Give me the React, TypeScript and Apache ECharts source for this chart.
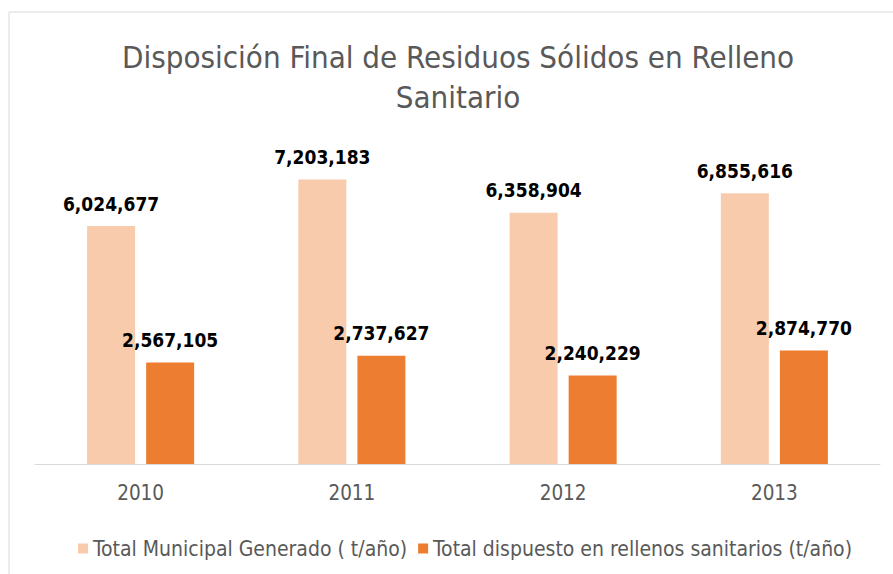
import React, { useEffect, useRef } from "react";
import * as echarts from "echarts";

const categories = ["2010", "2011", "2012", "2013"];
const generado = [6024677, 7203183, 6358904, 6855616];
const dispuesto = [2567105, 2737627, 2240229, 2874770];
const seriesNames = ["Total Municipal Generado ( t/año)", "Total dispuesto en rellenos sanitarios (t/año)"];
const titleLines = ["Disposición Final de Residuos Sólidos en Relleno", "Sanitario"];

const NARROW = "'DejaVu Sans Condensed', 'Liberation Sans', sans-serif";

export default function App() {
  const ref = useRef<HTMLDivElement>(null);
  useEffect(() => {
    document.body.style.margin = "0";
    const chart = echarts.init(ref.current!, null, { renderer: "svg" });
    const fmt = (p: any) => Number(p.value).toLocaleString("en-US");
    const label = {
      show: true,
      position: "top",
      distance: 13,
      formatter: fmt,
      color: "#000",
      fontWeight: "bold",
      fontSize: 19,
      fontFamily: NARROW,
    };
    chart.setOption({
      animation: false,
      backgroundColor: "#fff",
      graphic: [
        { type: "rect", shape: { x: 9, y: 12, width: 900, height: 600 }, style: { fill: "none", stroke: "#d9d9d9", lineWidth: 1 } },
        { type: "text", x: 458, y: 57, style: { text: titleLines[0], textAlign: "center", textVerticalAlign: "middle", fill: "#595959", fontSize: 31, fontFamily: NARROW } },
        { type: "text", x: 458, y: 97, style: { text: titleLines[1], textAlign: "center", textVerticalAlign: "middle", fill: "#595959", fontSize: 31, fontFamily: NARROW } },
      ],
      grid: { left: 35, right: 13, top: 148, bottom: 110 },
      legend: {
        left: 73,
        top: 533,
        itemWidth: 10,
        itemHeight: 10,
        itemGap: 11,
        icon: "rect",
        textStyle: { color: "#595959", fontSize: 21, fontFamily: NARROW },
        data: seriesNames,
      },
      xAxis: {
        type: "category",
        data: categories,
        axisLine: { lineStyle: { color: "#d9d9d9", width: 1 } },
        axisTick: { show: false },
        axisLabel: { color: "#595959", fontSize: 20.5, margin: 18, fontFamily: NARROW },
      },
      yAxis: { type: "value", min: 0, max: 8000000, show: false, splitLine: { show: false } },
      series: [
        { name: seriesNames[0], type: "bar", data: generado, barWidth: 48, barGap: "23%", itemStyle: { color: "#F8CBAD" }, label },
        { name: seriesNames[1], type: "bar", data: dispuesto, barWidth: 48, itemStyle: { color: "#ED7D31" }, label },
      ],
    });
    return () => chart.dispose();
  }, []);
  return <div ref={ref} style={{ width: 893, height: 574 }} />;
}
